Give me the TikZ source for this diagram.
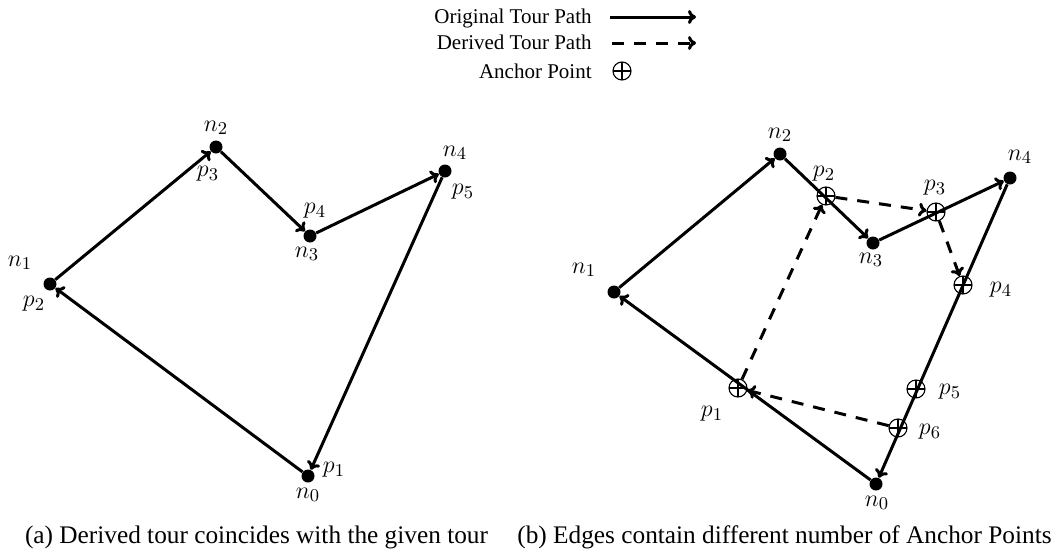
\documentclass[tikz,border=0pt]{standalone}
\usepackage{fontspec}
\setmainfont{Liberation Serif}
\usetikzlibrary{arrows.meta}
\begin{document}
\begin{tikzpicture}[x=0.5pt,y=-0.5pt,
  every node/.style={font=\fontsize{12.65}{15}\selectfont},
  legtext/.style={font=\fontsize{10.5}{12.5}\selectfont,anchor=base east,inner sep=0pt},
  dot/.style={circle,fill=black,inner sep=0pt,minimum size=6.5pt},
  anchorpt/.style={circle,draw,line width=0.55pt,inner sep=0pt,minimum size=9pt,
    path picture={\draw[line width=0.55pt] (path picture bounding box.north) -- (path picture bounding box.south)
      (path picture bounding box.west) -- (path picture bounding box.east);}},
  tour/.style={line width=1.5pt,-{To[length=4pt,width=7pt]}},
  derived/.style={line width=1.5pt,dash pattern=on 6pt off 5pt,-{To[length=4pt,width=7pt]}},
  lbl/.style={inner sep=1pt},
  caption/.style={anchor=base,inner sep=0pt}]
\useasboundingbox (0,0) rectangle (1061,552);
% legend
\node[legtext] (lt1) at (592,23) {Original Tour Path};
\node[legtext] (lt2) at (592,49) {Derived Tour Path};
\node[legtext] (lt3) at (592,78) {Anchor Point};
\coordinate (la1) at (610,17); \coordinate (lb1) at (696,17);
\coordinate (la2) at (612,43); \coordinate (lb2) at (696,43);
\draw[tour] (la1) -- (lb1);
\draw[derived] (la2) -- (lb2);
\node[anchorpt] (lap) at (622,71) {};
% (a)
\node[dot] (a0) at (308,476) {};
\node[dot] (a1) at (50,284) {};
\node[dot] (a2) at (216,147) {};
\node[dot] (a3) at (310,236) {};
\node[dot] (a4) at (445,171) {};
\draw[tour] (a0) -- (a1);
\draw[tour] (a1) -- (a2);
\draw[tour] (a2) -- (a3);
\draw[tour] (a3) -- (a4);
\draw[tour] (a4) -- (a0);
\node[lbl] (an0) at (308,495) {$n_0$};
\node[lbl] (ap1) at (334,470) {$p_1$};
\node[lbl] (an1) at (20,263) {$n_1$};
\node[lbl] (ap2) at (34,304) {$p_2$};
\node[lbl] (an2) at (216,128) {$n_2$};
\node[lbl] (ap3) at (208,174) {$p_3$};
\node[lbl] (an3) at (307,254) {$n_3$};
\node[lbl] (ap4) at (315,211) {$p_4$};
\node[lbl] (an4) at (455,153) {$n_4$};
\node[lbl] (ap5) at (463,192) {$p_5$};
\node[caption] (capa) at (256.5,543) {(a) Derived tour coincides with the given tour};
% (b)
\node[dot] (b0) at (876,484) {};
\node[dot] (b1) at (614,292) {};
\node[dot] (b2) at (780,154) {};
\node[dot] (b3) at (873,243) {};
\node[dot] (b4) at (1010,178) {};
\draw[tour] (b0) -- (b1);
\draw[tour] (b1) -- (b2);
\draw[tour] (b2) -- (b3);
\draw[tour] (b3) -- (b4);
\draw[tour] (b4) -- (b0);
\node[anchorpt] (q1) at (738,388) {};
\node[anchorpt] (q2) at (826,196) {};
\node[anchorpt] (q3) at (936,212) {};
\node[anchorpt] (q4) at (963,285) {};
\node[anchorpt] (q5) at (916,389) {};
\node[anchorpt] (q6) at (898,428) {};
\draw[derived] (q1) -- (q2);
\draw[derived] (q2) -- (q3);
\draw[derived] (q3) -- (q4);
\draw[derived] (q6) -- (q1);
\node[lbl] (bn0) at (877,503) {$n_0$};
\node[lbl] (bn1) at (584,270) {$n_1$};
\node[lbl] (bn2) at (780,135) {$n_2$};
\node[lbl] (bn3) at (871,260) {$n_3$};
\node[lbl] (bn4) at (1020,157) {$n_4$};
\node[lbl] (bp1) at (712,414) {$p_1$};
\node[lbl] (bp2) at (824,174) {$p_2$};
\node[lbl] (bp3) at (935,188) {$p_3$};
\node[lbl] (bp4) at (1001,290) {$p_4$};
\node[lbl] (bp5) at (950,392) {$p_5$};
\node[lbl] (bp6) at (930,432) {$p_6$};
\node[caption] (capb) at (784.5,543) {(b) Edges contain different number of Anchor Points};
\end{tikzpicture}
\end{document}
